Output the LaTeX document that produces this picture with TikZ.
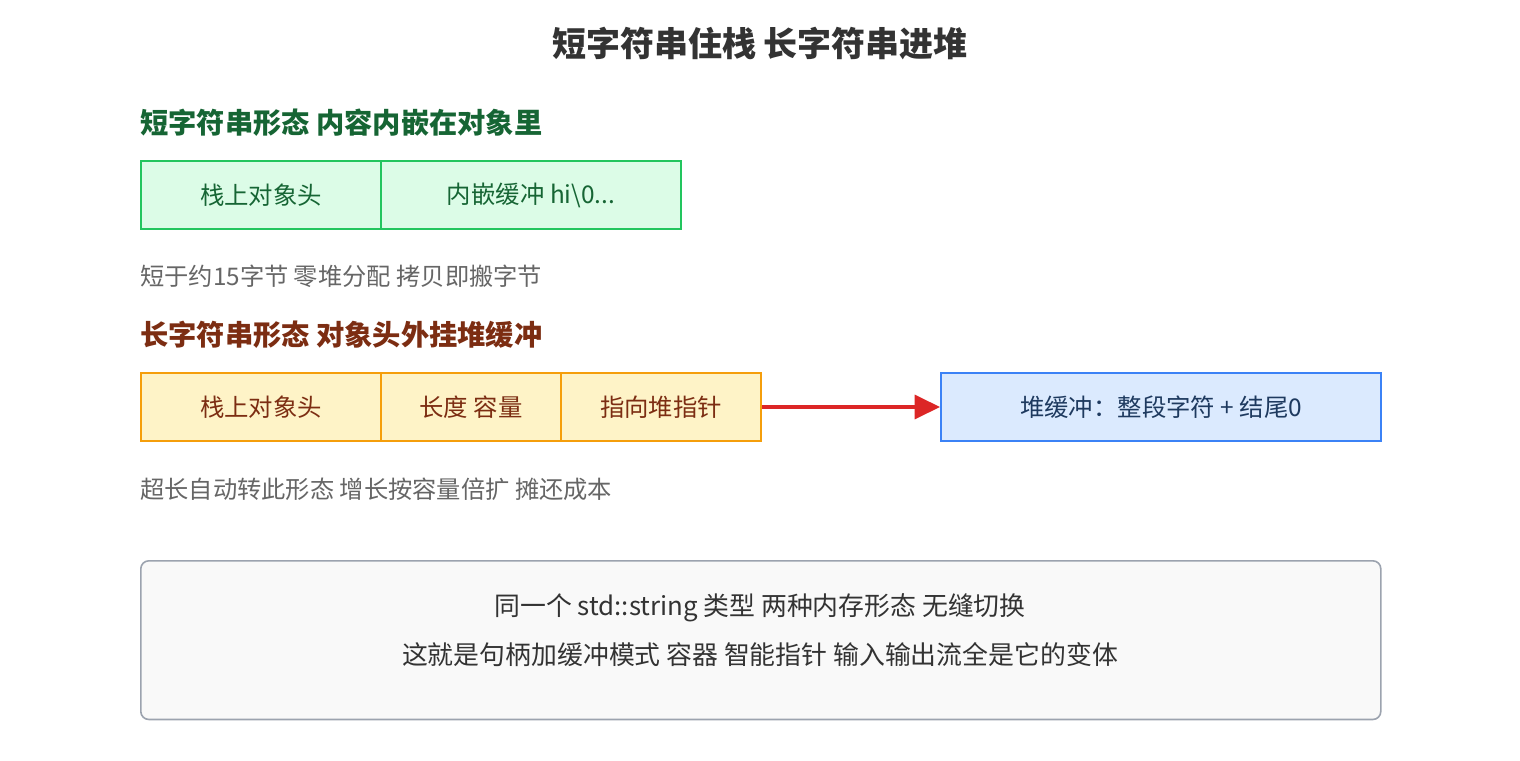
\documentclass[tikz,border=0pt]{standalone}
\usepackage{fontspec}
\setmainfont{Noto Sans CJK SC}
\usetikzlibrary{arrows.meta,calc,positioning}
\tikzset{>={Triangle[length=19pt,width=18pt]}}

\definecolor{titlegray}{HTML}{333333}
\definecolor{notegray}{HTML}{666666}
\definecolor{shortline}{HTML}{22C55E}
\definecolor{shortfill}{HTML}{DCFCE7}
\definecolor{shorttext}{HTML}{166534}
\definecolor{longline}{HTML}{F59E0B}
\definecolor{longfill}{HTML}{FEF3C7}
\definecolor{longtext}{HTML}{7C2D12}
\definecolor{heapline}{HTML}{3B82F6}
\definecolor{heapfill}{HTML}{DBEAFE}
\definecolor{heaptext}{HTML}{1E3A5F}
\definecolor{ptrred}{HTML}{DC2626}
\definecolor{sumline}{HTML}{9CA3AF}
\definecolor{sumfill}{HTML}{F9F9F9}

\tikzset{
    cellbox/.style = {draw, line width=1.5pt, minimum height=51pt, inner sep=0pt, anchor=north west, font=\fontsize{18.3}{22}\selectfont},
    shortcell/.style = {cellbox, draw=shortline, fill=shortfill, text=shorttext},
    longcell/.style = {cellbox, draw=longline, fill=longfill, text=longtext},
    heading/.style = {anchor=west, inner sep=0pt, font=\bfseries\fontsize{21.2}{25}\selectfont},
    note/.style = {anchor=west, inner sep=0pt, text=notegray, font=\fontsize{18.2}{22}\selectfont},
    sumtext/.style = {text=titlegray, font=\fontsize{19.4}{23}\selectfont},
}

\begin{document}
\begin{tikzpicture}[x=0.75pt, y=-0.75pt]

    \useasboundingbox[fill=white] (0,0) rectangle (1520,760);

    \node[text=titlegray, font=\bfseries\fontsize{25.5}{30}\selectfont] (title) at (760,44) {短字符串住栈 长字符串进堆};

    % short string
    \node[heading, text=shorttext] (shorthead) at (140,123) {短字符串形态 内容内嵌在对象里};
    \node[shortcell, minimum width=180pt] (shorthdr) at (140,160) {栈上对象头};
    \node[shortcell, minimum width=225pt] (shortbuf) at (380,160) {内嵌缓冲 hi\textbackslash 0...};
    \node[note] (shortnote) at ($(shorthead.west) + (0,153)$) {短于约15字节 零堆分配 拷贝即搬字节};

    % long string
    \begin{scope}[yshift = -159pt]
        \node[heading, text=longtext] (longhead) at (140,123) {长字符串形态 对象头外挂堆缓冲};
        \node[longcell, minimum width=180pt] (longhdr) at (140,160) {栈上对象头};
        \node[longcell, minimum width=135pt] (longsize) at (380,160) {长度 容量};
        \node[longcell, minimum width=150pt] (longptr) at (560,160) {指向堆指针};
        \node[cellbox, draw=heapline, fill=heapfill, text=heaptext, minimum width=330pt] (heapbuf) at (940,160) {堆缓冲：整段字符 + 结尾0};
        \node[note] (longnote) at ($(longhead.west) + (0,154)$) {超长自动转此形态 增长按容量倍扩 摊还成本};
    \end{scope}

    \draw[->, ptrred, line width=2.4pt] (longptr.east) -- (heapbuf.west);

    % summary
    \node[draw=sumline, fill=sumfill, line width=1.2pt, rounded corners=6pt, minimum width=930pt, minimum height=119pt, anchor=north west] (summary) at (140,560) {};
    \node[sumtext] (sumone) at (760,608) {同一个 std::string 类型 两种内存形态 无缝切换};
    \node[sumtext] (sumtwo) at (760,655) {这就是句柄加缓冲模式 容器 智能指针 输入输出流全是它的变体};

\end{tikzpicture}
\end{document}
